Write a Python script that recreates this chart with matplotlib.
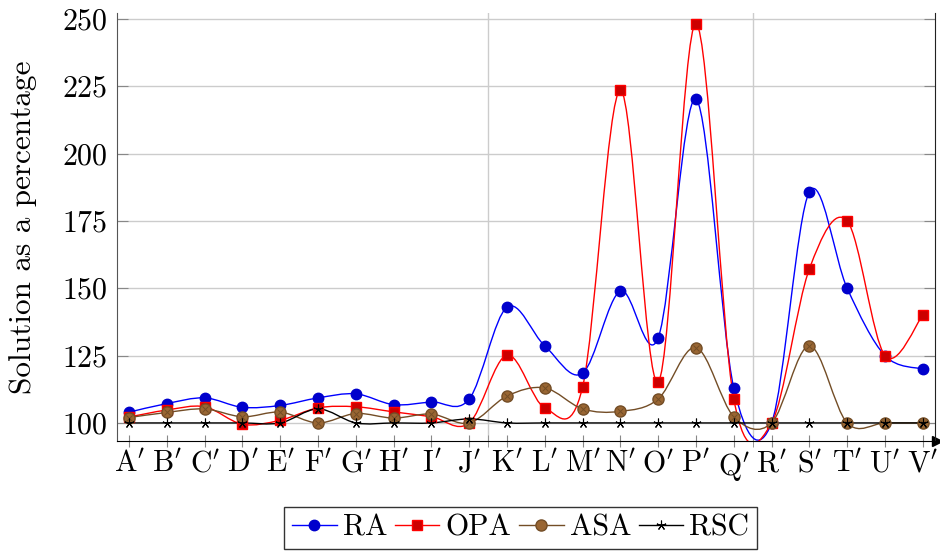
import matplotlib
matplotlib.use("Agg")
import matplotlib.pyplot as plt
from matplotlib.path import Path
from matplotlib.patches import PathPatch
from matplotlib.lines import Line2D

plt.rcParams['font.family'] = 'cmr10'
plt.rcParams['mathtext.fontset'] = 'cm'
plt.rcParams['axes.formatter.use_mathtext'] = True

# data
labels = ["A", "B", "C", "D", "E", "F", "G", "H", "I", "J", "K",
          "L", "M", "N", "O", "P", "Q", "R", "S", "T", "U", "V"]
ra = [104, 107.2, 109.3, 105.8, 106.5, 109.3, 110.8, 106.8, 107.8, 108.9, 143,
      128.6, 118.5, 149, 131.6, 220.2, 113, 100, 185.8, 150, 125, 120]
opa = [102.2, 104.8, 106, 99.5, 101, 105.6, 106, 104.1, 102.3, 100, 125.2,
       105.6, 113.4, 223.5, 115.2, 248.2, 108.9, 100, 157.2, 175, 125, 140]
asa = [102, 103.9, 105.2, 102.3, 104, 100, 103.5, 101.8, 103.3, 100, 110,
       113, 105.2, 104.3, 108.9, 128, 102.3, 100, 128.6, 100, 100, 100]
rsc = [100, 100, 100, 100, 100, 105.2, 100, 100, 100, 101.5, 100,
       100, 100, 100, 100, 100, 100, 100, 100, 100, 100, 100]

series = [
    ("RA", ra, '#0000ff', dict(marker='o', mfc='#0000cc', mec='#0000cc', ms=7.5)),
    ("OPA", opa, '#ff0000', dict(marker='s', mfc='#cc0000', mec='#ff0000', ms=7.5)),
    ("ASA", asa, '#734d26', dict(marker='o', mfc='#996633', mec='#734d26', ms=8)),
    ("RSC", rsc, '#000000', dict(marker=(5, 2, 0), mfc='black', mec='black', ms=7, mew=0.8)),
]

FS = 21.5


def smooth_path(xs, ys, t=0.165):
    # pgfplots-like "smooth" curve through the points
    n = len(xs)
    d = []
    for i in range(n):
        a, b = max(i - 1, 0), min(i + 1, n - 1)
        d.append((xs[b] - xs[a], ys[b] - ys[a]))
    verts = [(xs[0], ys[0])]
    codes = [Path.MOVETO]
    for i in range(n - 1):
        verts += [(xs[i] + t * d[i][0], ys[i] + t * d[i][1]),
                  (xs[i + 1] - t * d[i + 1][0], ys[i + 1] - t * d[i + 1][1]),
                  (xs[i + 1], ys[i + 1])]
        codes += [Path.CURVE4] * 3
    return Path(verts, codes)


fig = plt.figure(figsize=(9.4, 5.54), dpi=100)
ax = fig.add_axes([0.1245, 0.204, 0.870, 0.7725])

x = list(range(len(labels)))
handles = []
for name, vals, col, mk in series:
    ax.add_patch(PathPatch(smooth_path(x, vals), fill=False, edgecolor=col, lw=1.0, zorder=3))
    ax.plot(x, vals, ls='none', zorder=4, **mk)
    if name == "ASA":
        ax.plot(x, vals, ls='none', marker='x', color='#734d26', ms=5, mew=0.7, zorder=4)
    handles.append(Line2D([], [], color=col, lw=1.0, **mk))

ax.set_xlim(-0.32, 21.32)
ax.set_ylim(93.3, 252.2)

ax.set_yticks([100, 125, 150, 175, 200, 225, 250])
ax.set_xticks(x)
ax.set_xticklabels([r"$\mathrm{%s}'$" % l for l in labels])
ax.set_xticks([9.5, 16.5], minor=True)
ax.tick_params(axis='x', which='both', direction='inout', length=8, color='#888888',
               labelsize=FS, pad=3)
ax.tick_params(axis='y', direction='in', length=8, color='#888888', labelsize=FS,
               right=True, pad=7)

ax.grid(axis='y', color='#cccccc', lw=1.0)
ax.grid(axis='x', which='minor', color='#cccccc', lw=1.0)
ax.set_axisbelow(True)

ax.spines['top'].set_visible(False)
ax.spines['left'].set_color('#555555')
ax.spines['right'].set_color('#222222')
ax.spines['bottom'].set_color('black')
ax.plot([1.003], [0], marker='>', color='black', ms=7, transform=ax.transAxes, clip_on=False)

ax.set_ylabel("Solution as a percentage", fontsize=22.5, labelpad=18)

leg = ax.legend(handles, [s[0] for s in series], loc='upper center',
                bbox_to_anchor=(0.4935, -0.154), ncol=4, fontsize=FS, frameon=True,
                fancybox=False, handlelength=1.5, handletextpad=0.2, columnspacing=0.25,
                borderpad=0.25, borderaxespad=0)
leg.get_frame().set_edgecolor('black')
leg.get_frame().set_linewidth(1.0)

plt.savefig("out.png", format="png")
